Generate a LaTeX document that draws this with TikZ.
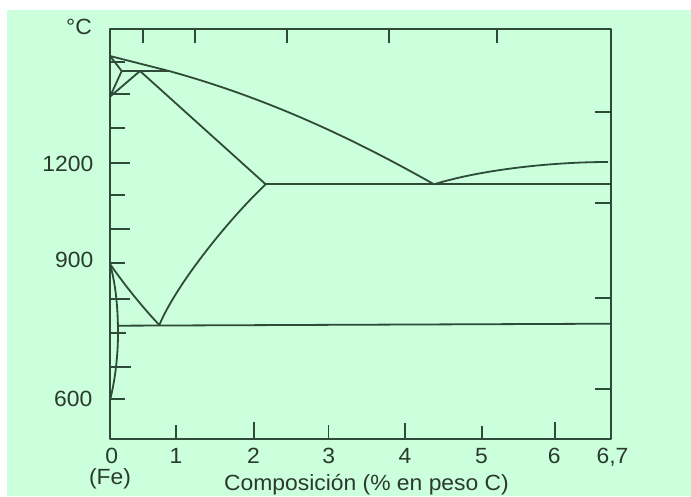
\documentclass[tikz,border=0pt]{standalone}
\usepackage{fontspec}
\setmainfont{Liberation Sans}[FakeStretch=1.04]
\definecolor{bg}{RGB}{204,255,220}
\definecolor{ln}{RGB}{46,74,57}
\definecolor{tx}{RGB}{42,58,47}
\begin{document}
\begin{tikzpicture}[x=1pt,y=-1pt,line join=round,
  axisline/.style={draw=ln,line width=2.1pt},
  curveline/.style={draw=ln,line width=1.8pt},
  tickline/.style={draw=ln,line width=1.9pt},
  lbl/.style={text=tx,font=\fontsize{22}{25}\selectfont,inner sep=0pt}]
\useasboundingbox (0,0) rectangle (691,496);
\fill[white] (0,0) rectangle (691,496);
\fill[bg] (7,10) rectangle (691,496);
% frame
\draw[axisline] (110,29.3) rectangle (610.8,439);
% top ticks
\foreach \x in {143.2,195.2,286.8,389,497}
  \draw[tickline] (\x,29.3) -- (\x,43);
% bottom ticks
\foreach \x/\t in {176.3/425,254.3/422,328.5/425,405/423,481.7/426,554.6/422}
  \draw[tickline] (\x,439) -- (\x,\t);
% left ticks
\foreach \y/\l in {61.7/125,94/130,128/125,162.7/130,195/124.5,229.3/130,263.3/125,299.3/129.5,333.3/125.5,366.7/131,399.3/124.5}
  \draw[tickline] (110,\y) -- (\l,\y);
% right ticks
\foreach \y in {112,202.7,297.7,389}
  \draw[tickline] (610.8,\y) -- (595,\y);
% key points
\coordinate (d0) at (110,56);
\coordinate (dp) at (121.7,71);
\coordinate (gp) at (140,71);
\coordinate (lp) at (169,71);
\coordinate (d1) at (110,96.7);
\coordinate (E) at (265.7,184.3);
\coordinate (Eu) at (434,184.3);
\coordinate (Er) at (610.8,184.3);
\coordinate (Lr) at (608,162);
\coordinate (A3) at (110,264);
\coordinate (S) at (159.3,325);
\coordinate (P) at (117,325.7);
\coordinate (Sr) at (610.8,323.7);
\coordinate (a0) at (110,400);
% peritectic region
\draw[curveline] (d0) -- (dp) -- (d1) -- (gp);
\draw[curveline] (dp) -- (lp);
% liquidus
\draw[curveline] (d0) -- (lp) .. controls (259.7,96) and (344,133.3) .. (Eu);
\draw[curveline] (Eu) .. controls (480,170) and (550,162) .. (Lr);
% solidus and eutectic
\draw[curveline] (gp) -- (E);
\draw[curveline] (E) -- (Er);
% A3 and Acm
\draw[curveline] (A3) .. controls (126,287) and (143.3,308) .. (S);
\draw[curveline] (S) .. controls (177,283) and (230,218) .. (E);
% eutectoid
\draw[curveline] (P) -- (Sr);
% alpha solvus
\draw[curveline] (A3) .. controls (116,285) and (118,310) .. (118,333)
  .. controls (118,360) and (114,385) .. (a0);
% labels
\node[lbl,anchor=base west] (degc) at (66,34) {°C};
\node[lbl,anchor=base east] (t1200) at (93.5,171.5) {1200};
\node[lbl,anchor=base east] (t900) at (93.5,267) {900};
\node[lbl,anchor=base east] (t600) at (92.5,406.5) {600};
\node[lbl,anchor=base] (x0) at (111.7,463) {0};
\node[lbl,anchor=base] (x1) at (176,463) {1};
\node[lbl,anchor=base] (x2) at (253.5,463) {2};
\node[lbl,anchor=base] (x3) at (328.7,463) {3};
\node[lbl,anchor=base] (x4) at (405,463) {4};
\node[lbl,anchor=base] (x5) at (481.5,463) {5};
\node[lbl,anchor=base] (x6) at (554.3,463) {6};
\node[lbl,anchor=base] (x67) at (612.5,463) {6,7};
\node[lbl,anchor=base] (fe) at (110,484) {(Fe)};
\node[lbl,anchor=base] (xlab) at (366.5,490) {Composición (\% en peso C)};
\end{tikzpicture}
\end{document}
